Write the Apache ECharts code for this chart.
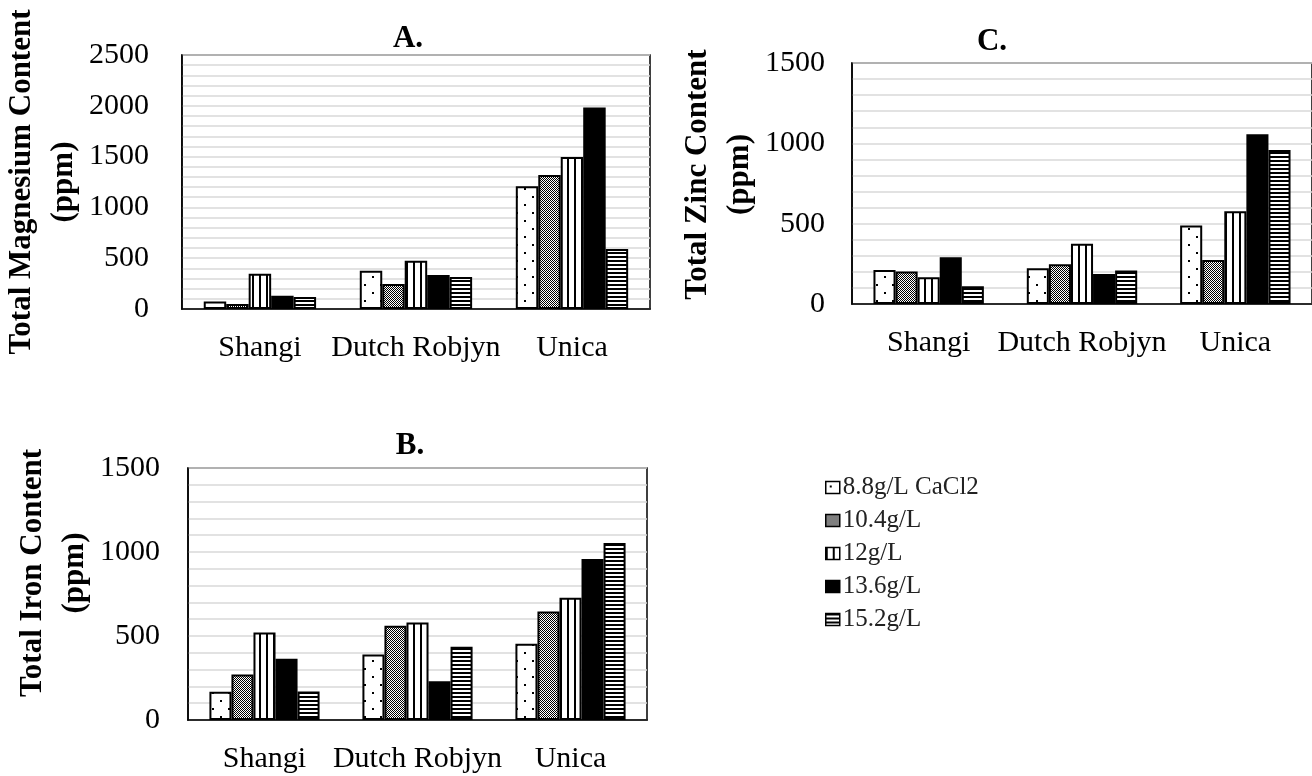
<!DOCTYPE html>
<html>
<head>
<meta charset="utf-8">
<script src="https://cdn.jsdelivr.net/npm/echarts@6/dist/echarts.min.js"></script>
<style>
  html, body { margin: 0; padding: 0; background: #fff; }
  #chart { width: 1312px; height: 776px; }
</style>
</head>
<body>
<div id="chart"></div>
<script>
const categories = ["Shangi", "Dutch Robjyn", "Unica"];
const seriesNames = ["8.8g/L CaCl2", "10.4g/L", "12g/L", "13.6g/L", "15.2g/L"];

// A. magnesium (ppm)
const mgDots = [75, 377, 1207];
const mgCross = [49, 246, 1318];
const mgVert = [348, 475, 1495];
const mgBlack = [131, 334, 1984];
const mgHoriz = [118, 315, 590];

// C. zinc (ppm)
const znDots = [212, 223, 489];
const znCross = [202, 248, 274];
const znVert = [167, 375, 578];
const znBlack = [291, 186, 1056];
const znHoriz = [111, 208, 959];

// B. iron (ppm)
const feDots = [168, 390, 454];
const feCross = [271, 561, 646];
const feVert = [521, 581, 727];
const feBlack = [365, 230, 959];
const feHoriz = [170, 436, 1054];

const yMax = [2500, 1500, 1500];
const yStep = 500;

// fill patterns for the bars
function tile(w, h, draw) {
  const c = document.createElement("canvas");
  c.width = w; c.height = h;
  const ctx = c.getContext("2d");
  ctx.fillStyle = "#fff";
  ctx.fillRect(0, 0, w, h);
  ctx.fillStyle = "#000";
  draw(ctx);
  return { image: c, repeat: "repeat" };
}
const fills = [
  tile(16, 16, ctx => { ctx.fillRect(4, 4, 2, 2); ctx.fillRect(12, 12, 2, 2); }),
  tile(2, 2, ctx => { ctx.fillRect(0, 0, 1, 1); ctx.fillRect(1, 1, 1, 1); }),
  tile(7, 1, ctx => { ctx.fillRect(0, 0, 2, 1); }),
  "#000",
  tile(1, 4, ctx => { ctx.fillRect(0, 0, 1, 2); })
];

const serif = "Liberation Serif";
const gridBox = [
  { left: 180, top: 55, width: 470, height: 254 },
  { left: 852, top: 63, width: 468, height: 241 },
  { left: 188, top: 468, width: 459, height: 252 }
];
const yNames = ["Total Magnesium Content\n(ppm)", "Total Zinc Content\n(ppm)", "Total Iron Content\n(ppm)"];
const nameGaps = [92, 80, 88];
const namePad = [[0, 0, 0, 0], [0, 0, 0, 18], [0, 0, 0, 42]];
const labelMargins = [33, 27, 28];

const dataSets = [
  [mgDots, mgCross, mgVert, mgBlack, mgHoriz],
  [znDots, znCross, znVert, znBlack, znHoriz],
  [feDots, feCross, feVert, feBlack, feHoriz]
];

let series = [];
dataSets.forEach((set, g) => {
  set.forEach((vals, i) => {
    series.push({
      name: seriesNames[i],
      type: "bar",
      xAxisIndex: g,
      yAxisIndex: g,
      data: vals,
      barGap: "0%",
      barCategoryGap: "28%",
      itemStyle: { color: fills[i], borderColor: "#000", borderWidth: 2 }
    });
  });
});

const option = {
  animation: false,
  backgroundColor: "#fff",
  title: [
    { text: "A.", left: 403, top: 18, textAlign: "center",
      textStyle: { fontFamily: serif, fontSize: 31, fontWeight: "bold", color: "#000" } },
    { text: "C.", left: 987, top: 21, textAlign: "center",
      textStyle: { fontFamily: serif, fontSize: 31, fontWeight: "bold", color: "#000" } },
    { text: "B.", left: 405, top: 425, textAlign: "center",
      textStyle: { fontFamily: serif, fontSize: 31, fontWeight: "bold", color: "#000" } }
  ],
  legend: {
    orient: "vertical",
    left: 820,
    top: 470,
    itemWidth: 14,
    itemHeight: 12,
    itemGap: 8,
    icon: "rect",
    itemStyle: { borderWidth: 1.5, borderColor: "#000" },
    textStyle: { fontFamily: serif, fontSize: 25, color: "#222", lineHeight: 24, padding: [0, 0, 0, -2] },
    data: seriesNames
  },
  grid: gridBox.map(b => Object.assign({ show: true, borderColor: "#000", borderWidth: 1.5, containLabel: false }, b)),
  xAxis: gridBox.map((b, g) => ({
    type: "category",
    gridIndex: g,
    data: categories,
    axisLine: { lineStyle: { color: "#000", width: 1.5 } },
    axisTick: { show: false },
    axisLabel: { interval: 0, fontFamily: serif, fontSize: 30, color: "#000", margin: 24 }
  })),
  yAxis: gridBox.map((b, g) => ({
    type: "value",
    gridIndex: g,
    min: 0,
    max: yMax[g],
    interval: yStep,
    name: yNames[g],
    nameLocation: "middle",
    nameRotate: 90,
    nameGap: nameGaps[g],
    nameTextStyle: { fontFamily: serif, fontSize: 31, fontWeight: "bold", color: "#000", lineHeight: 42, padding: namePad[g] },
    axisLine: { show: true, lineStyle: { color: "#000", width: 1.5 } },
    axisTick: { show: false },
    axisLabel: { fontFamily: serif, fontSize: 30, color: "#000", margin: labelMargins[g], formatter: v => String(v) },
    splitLine: { show: true, lineStyle: { color: "#d9d9d9", width: 1.5 } },
    minorTick: { show: false, splitNumber: 5 },
    minorSplitLine: { show: true, lineStyle: { color: "#d9d9d9", width: 1.5 } }
  })),
  series: series
};

const chart = echarts.init(document.getElementById("chart"));
chart.setOption(option);
</script>
</body>
</html>
